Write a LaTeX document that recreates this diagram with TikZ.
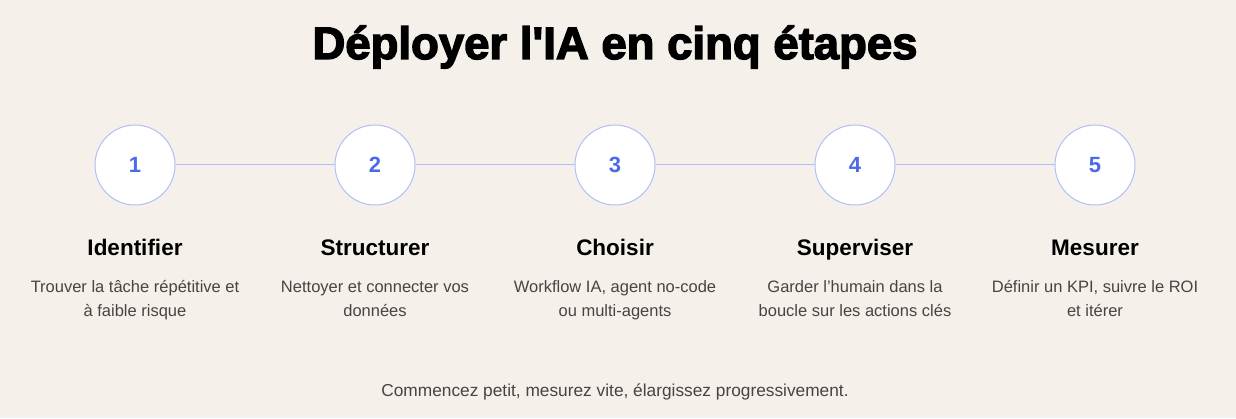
\documentclass[tikz,border=0pt]{standalone}
\usepackage{fontspec}
\setmainfont{Liberation Sans}
\newfontfamily\headfont[FakeBold=3]{Liberation Sans}
\usetikzlibrary{positioning}
\definecolor{bgcream}{HTML}{F5F0E9}
\definecolor{ringblue}{HTML}{B0C0F6}
\definecolor{numblue}{HTML}{4A6AE8}
\definecolor{textgrey}{HTML}{454545}
\tikzset{node distance=159pt, % gap between two step circles
         stepcircle/.style={ % the numbered circles
           circle, draw=ringblue, fill=white, line width=1pt,
           minimum size=80pt, inner sep=0pt,
           text=numblue, font=\fontsize{22}{26}\selectfont\bfseries},
         steptitle/.style={ % the step names
           anchor=base, text=black, font=\fontsize{22.5}{26}\selectfont\bfseries},
         stepdesc/.style={ % the two lines below each name
           anchor=base, text=textgrey,
           font=\fontsize{16.5}{24}\selectfont},
         link/.style={draw=ringblue, line width=1pt}}

\begin{document}
\begin{tikzpicture}[x=1pt,y=1pt]
\fill[bgcream] (0,0) rectangle (1236,418);
\useasboundingbox (0,0) rectangle (1236,418);

\node[anchor=base, text=black, font=\headfont\fontsize{45.5}{50}\selectfont\bfseries, xscale=1.0, transform shape] (title) at (615,359) {Déployer l'IA en cinq étapes};

\node[stepcircle] (s1) at (135,253) {1};
\node[stepcircle, right=of s1] (s2) {2};
\node[stepcircle, right=of s2] (s3) {3};
\node[stepcircle, right=of s3] (s4) {4};
\node[stepcircle, right=of s4] (s5) {5};

\draw[link] (s1) -- (s2);
\draw[link] (s2) -- (s3);
\draw[link] (s3) -- (s4);
\draw[link] (s4) -- (s5);

\node[steptitle] (t1) at ([yshift=-91pt]s1.center) {Identifier};
\node[steptitle] (t2) at ([yshift=-91pt]s2.center) {Structurer};
\node[steptitle] (t3) at ([yshift=-91pt]s3.center) {Choisir};
\node[steptitle] (t4) at ([yshift=-91pt]s4.center) {Superviser};
\node[steptitle] (t5) at ([yshift=-91pt]s5.center) {Mesurer};

% first line and second line of each description
\node[stepdesc] (d1a) at ([yshift=-127pt]s1.center) {Trouver la tâche répétitive et};
\node[stepdesc] (d1b) at ([yshift=-151pt]s1.center) {à faible risque};
\node[stepdesc] (d2a) at ([yshift=-127pt]s2.center) {Nettoyer et connecter vos};
\node[stepdesc] (d2b) at ([yshift=-151pt]s2.center) {données};
\node[stepdesc] (d3a) at ([yshift=-127pt]s3.center) {Workflow IA, agent no-code};
\node[stepdesc] (d3b) at ([yshift=-151pt]s3.center) {ou multi-agents};
\node[stepdesc] (d4a) at ([yshift=-127pt]s4.center) {Garder l'humain dans la};
\node[stepdesc] (d4b) at ([yshift=-151pt]s4.center) {boucle sur les actions clés};
\node[stepdesc] (d5a) at ([yshift=-127pt]s5.center) {Définir un KPI, suivre le ROI};
\node[stepdesc] (d5b) at ([yshift=-151pt]s5.center) {et itérer};

\node[anchor=base, text=textgrey, font=\fontsize{17.3}{20}\selectfont] (foot) at (615,22) {Commencez petit, mesurez vite, élargissez progressivement.};
\end{tikzpicture}
\end{document}
